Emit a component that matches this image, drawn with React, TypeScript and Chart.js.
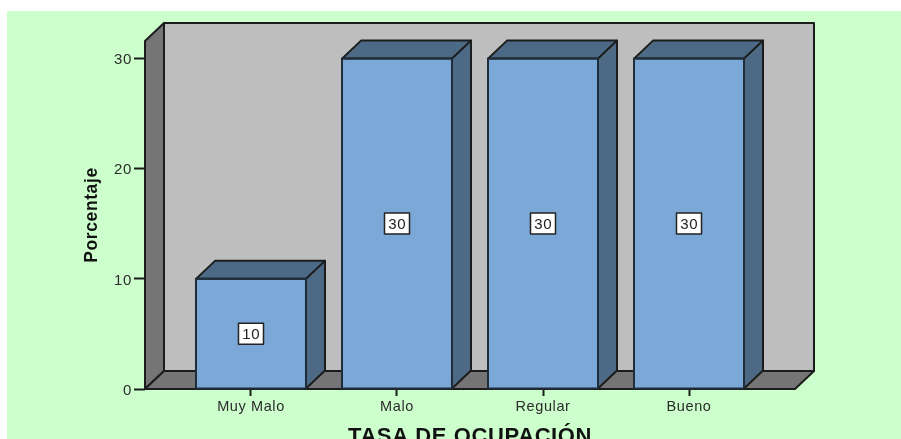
import React, { useEffect, useRef } from "react";
import { Chart, registerables } from "chart.js";

Chart.register(...registerables);

const categories = ["Muy Malo", "Malo", "Regular", "Bueno"];
const percentages = [10, 30, 30, 30];
const yTicks = [0, 10, 20, 30];
const xTitle = "TASA DE OCUPACIÓN";
const yTitle = "Porcentaje";

const PAGE_GREEN = "#CCFFCC";
const WALL = "#BEBEBE";
const SIDE = "#757575";
const BAR = "#7BA8D6";
const BAR_DARK = "#4C6A86";
const LINE = "#1c1c1c";
const DX = 19;
const DY = -18;
const SPACING = "0.6px";

function poly(ctx: CanvasRenderingContext2D, pts: number[][], fill: string, stroke = LINE, lw = 2) {
  ctx.beginPath();
  pts.forEach((p, i) => (i ? ctx.lineTo(p[0], p[1]) : ctx.moveTo(p[0], p[1])));
  ctx.closePath();
  ctx.fillStyle = fill;
  ctx.fill();
  ctx.lineWidth = lw;
  ctx.strokeStyle = stroke;
  ctx.lineJoin = "round";
  ctx.stroke();
}

const scene = {
  id: "scene",
  beforeDraw(chart: any) {
    const { ctx, width, height } = chart;
    ctx.save();
    ctx.fillStyle = "#ffffff";
    ctx.fillRect(0, 0, width, height);
    ctx.fillStyle = PAGE_GREEN;
    ctx.fillRect(7, 11, width - 7, height - 11);
    ctx.restore();
    ctx.letterSpacing = SPACING;
  },
  beforeDatasetsDraw(chart: any) {
    const { ctx, chartArea: a } = chart;
    const { left: l, right: r, top: t, bottom: b } = a;
    ctx.save();
    poly(ctx, [[l + DX, t + DY], [r + DX, t + DY], [r + DX, b + DY], [l + DX, b + DY]], WALL);
    poly(ctx, [[l, t], [l + DX, t + DY], [l + DX, b + DY], [l, b]], SIDE);
    poly(ctx, [[l, b], [l + DX, b + DY], [r + DX, b + DY], [r, b]], SIDE);
    ctx.restore();
  },
  afterDatasetsDraw(chart: any) {
    const { ctx } = chart;
    const meta = chart.getDatasetMeta(0);
    ctx.save();
    meta.data.forEach((el: any, i: number) => {
      const { x, y, base, width } = el.getProps(["x", "y", "base", "width"], true);
      const x0 = x - width / 2;
      const x1 = x + width / 2;
      poly(ctx, [[x0, y], [x0 + DX, y + DY], [x1 + DX, y + DY], [x1, y]], BAR_DARK);
      poly(ctx, [[x1, y], [x1 + DX, y + DY], [x1 + DX, base + DY], [x1, base]], BAR_DARK);
      ctx.beginPath();
      ctx.rect(x0, y, width, base - y);
      ctx.lineWidth = 2;
      ctx.strokeStyle = "#1f2d3a";
      ctx.stroke();
      const cy = (y + base) / 2;
      ctx.fillStyle = "#ffffff";
      ctx.fillRect(x - 12.5, cy - 10.5, 25, 21);
      ctx.lineWidth = 1.5;
      ctx.strokeStyle = "#222222";
      ctx.strokeRect(x - 12.5, cy - 10.5, 25, 21);
      ctx.fillStyle = "#222222";
      ctx.font = "15px 'Liberation Sans'";
      ctx.textAlign = "center";
      ctx.textBaseline = "middle";
      ctx.fillText(String(percentages[i]), x + 0.3, cy + 1);
    });
    ctx.restore();
  },
  afterDraw(chart: any) {
    chart.ctx.letterSpacing = "0px";
  },
};

export default function App() {
  const ref = useRef<HTMLCanvasElement>(null);
  useEffect(() => {
    document.body.style.margin = "0";
    const chart = new Chart(ref.current as HTMLCanvasElement, {
      type: "bar",
      data: {
        labels: categories,
        datasets: [
          {
            data: percentages.map((v, i) => ({ x: i, y: v })),
            backgroundColor: BAR,
            borderWidth: 0,
            barThickness: 110,
          },
        ],
      },
      options: {
        animation: false,
        responsive: false,
        layout: { padding: { left: 78, right: 106, top: 41, bottom: 0 } },
        plugins: { legend: { display: false }, tooltip: { enabled: false } },
        scales: {
          x: {
            type: "linear",
            offset: false,
            min: -0.726,
            max: 3.726,
            grid: {
              display: true,
              offset: false,
              drawOnChartArea: false,
              drawTicks: true,
              tickLength: 7,
              tickColor: LINE,
              tickWidth: 2,
            },
            border: { display: false },
            afterBuildTicks: (s: any) => {
              s.ticks = categories.map((_, i) => ({ value: i }));
            },
            afterFit: (s: any) => {
              s.height = 50;
            },
            ticks: {
              autoSkip: false,
              maxRotation: 0,
              padding: 2,
              color: "#2c2c2c",
              font: { family: "'Liberation Sans'", size: 14.5 },
              callback: (v: any) => categories[v as number],
            },
            title: {
              display: true,
              text: xTitle,
              color: "#111111",
              font: { family: "'Liberation Sans'", size: 22, weight: "bold" },
              padding: { top: 8, bottom: -11 },
            },
          },
          y: {
            min: 0,
            max: 31.6,
            afterBuildTicks: (s: any) => {
              s.ticks = yTicks.map((v) => ({ value: v }));
            },
            afterFit: (s: any) => {
              s.width = 67;
            },
            grid: {
              display: true,
              drawOnChartArea: false,
              drawTicks: true,
              tickLength: 11,
              tickColor: LINE,
              tickWidth: 2,
            },
            border: { display: false },
            ticks: {
              padding: 2,
              labelOffset: 1.5,
              color: "#2c2c2c",
              font: { family: "'Liberation Sans'", size: 15 },
            },
            title: {
              display: true,
              text: yTitle,
              color: "#111111",
              font: { family: "'Liberation Sans'", size: 17.5, weight: "bold" },
            },
          },
        },
      } as any,
      plugins: [scene],
    });
    return () => chart.destroy();
  }, []);
  return <canvas ref={ref} width={901} height={439} style={{ display: "block" }} />;
}
